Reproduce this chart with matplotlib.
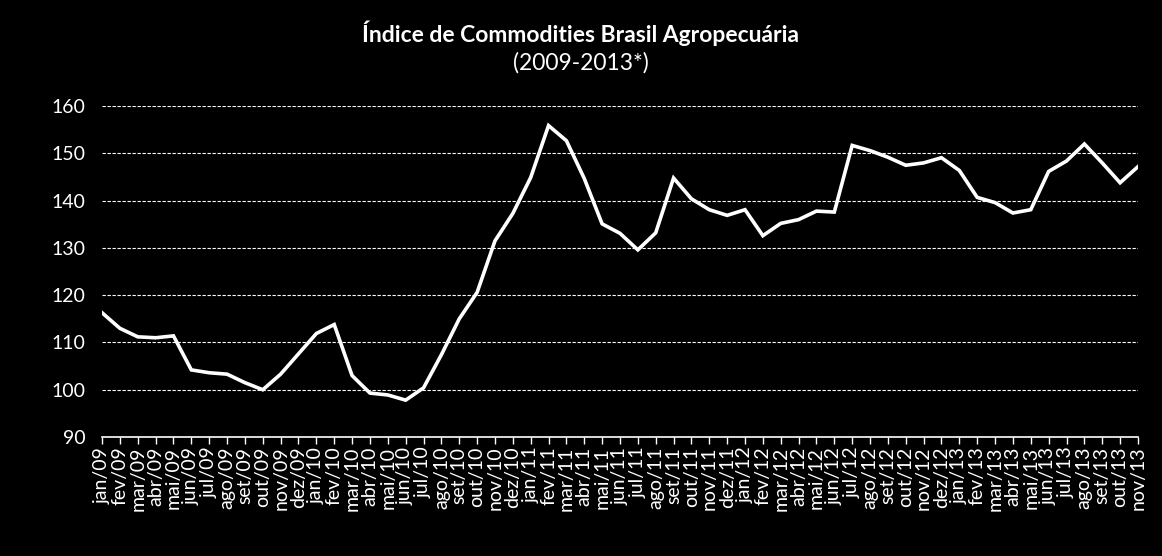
import numpy as np
import matplotlib
matplotlib.use("Agg")
import matplotlib.pyplot as plt

# monthly labels jan/09 .. nov/13
months = ["jan", "fev", "mar", "abr", "mai", "jun", "jul", "ago", "set", "out", "nov", "dez"]
years = ["09", "10", "11", "12", "13"]
labels = [m + "/" + y for y in years for m in months][:59]

valores = [116.3, 113.0, 111.2, 111.0, 111.4, 104.2, 103.6, 103.3, 101.5, 100.0, 103.3, 107.6,
           111.9, 113.8, 103.0, 99.3, 98.9, 97.8, 100.4, 107.4, 115.0, 120.6, 131.5, 137.3,
           144.9, 155.9, 152.7, 144.7, 135.1, 133.1, 129.6, 133.2, 144.8, 140.4, 138.1, 136.9,
           138.1, 132.6, 135.2, 136.0, 137.8, 137.6, 151.7, 150.6, 149.2, 147.5, 148.0, 149.1,
           146.4, 140.7, 139.6, 137.4, 138.1, 146.2, 148.4, 152.0, 148.0, 143.8, 147.2]

titulo = "Índice de Commodities Brasil Agropecuária"
subtitulo = "(2009-2013*)"

plt.rcParams["font.family"] = ["Lato", "DejaVu Sans"]

fig = plt.figure(figsize=(11.62, 5.56), dpi=100, facecolor="black")
ax = fig.add_axes([0.0878, 0.214, 0.8915, 0.595], facecolor="black")

x = np.arange(len(valores))
ax.plot(x, valores, color="white", lw=2.6, solid_joinstyle="miter")

ax.set_xlim(0, len(valores) - 1)
ax.set_ylim(90, 160)
ax.set_yticks(range(90, 161, 10))
ax.set_xticks(x)
ax.set_xticklabels(labels, rotation=90, fontsize=14, color="white")
ax.tick_params(axis="y", length=0, labelsize=14, labelcolor="white", pad=12)
ax.tick_params(axis="x", length=5, color="white", width=1, pad=2)

ax.grid(axis="y", color="white", lw=0.8, linestyle=(0, (3, 1.5)))
ax.set_axisbelow(True)
for s in ["top", "right", "left"]:
    ax.spines[s].set_visible(False)
ax.spines["bottom"].set_color("white")
ax.spines["bottom"].set_linewidth(1.2)

fig.text(0.5, 0.94, titulo, ha="center", va="center", color="white",
         fontsize=16.5, fontweight="bold")
fig.text(0.5, 0.887, subtitulo, ha="center", va="center", color="white", fontsize=16.5)

fig.savefig("out.png", dpi=100, facecolor="black")
